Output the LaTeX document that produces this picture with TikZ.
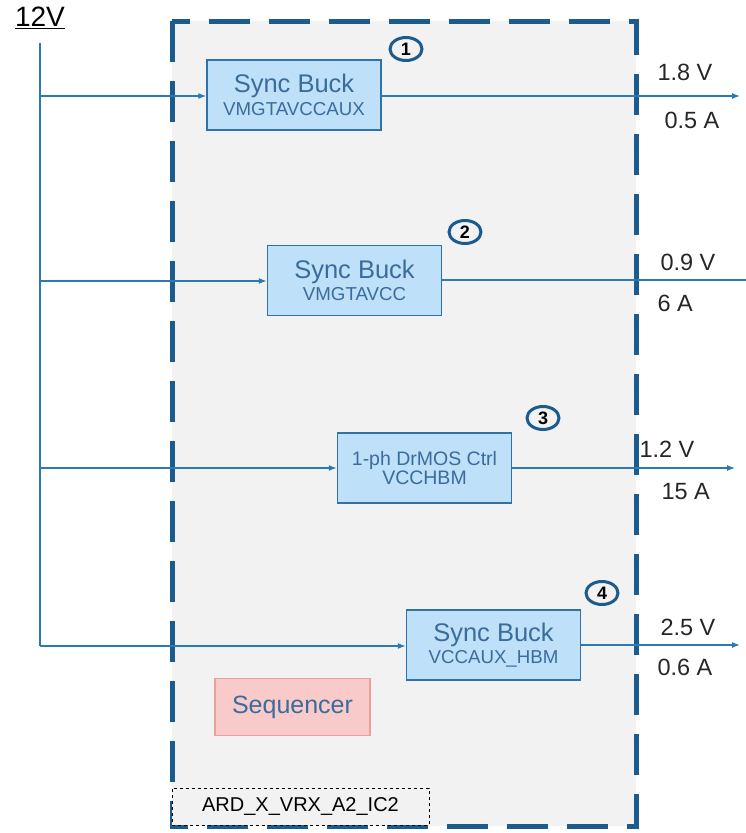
\documentclass[tikz,border=0pt]{standalone}
\usepackage{fontspec}
\setmainfont{Liberation Sans}
\usetikzlibrary{arrows.meta,shapes.geometric}

\definecolor{frameblue}{HTML}{1B5B8E}
\definecolor{wireblue}{HTML}{2B79B5}
\definecolor{boxfill}{HTML}{BEE0F8}
\definecolor{boxline}{HTML}{2F72AA}
\definecolor{boxtext}{HTML}{3A6C9C}
\definecolor{seqfill}{HTML}{F8CACA}
\definecolor{seqline}{HTML}{EBA0A0}
\definecolor{panel}{HTML}{F2F2F2}

\newcommand{\bigtxt}{\fontsize{25.5}{28}\selectfont}
\newcommand{\smalltxt}{\fontsize{18.7}{22}\selectfont}

\tikzset{
  regbox/.style={draw=boxline, fill=boxfill, line width=1.5pt, minimum width=174pt,
    minimum height=70pt, align=center, text=boxtext, inner sep=0pt},
  railnum/.style={ellipse, draw=frameblue, line width=3pt, minimum width=32pt,
    minimum height=23pt, inner sep=0pt, font=\fontsize{18}{18}\selectfont\bfseries},
  wire/.style={wireblue, line width=1.2pt},
  feed/.style={wire, -{Latex[length=8pt,width=6pt]}},
  railtxt/.style={anchor=west, font=\fontsize{23.5}{25}\selectfont, text=black!85}
}

\begin{document}
\begin{tikzpicture}[x=1pt, y=-1pt]
    \useasboundingbox (0,0) rectangle (746,833);

    % regulator frame
    \draw[frameblue, fill=panel, line width=5pt, dash pattern=on 41pt off 19pt]
        (172,21) rectangle (636,826);
    \node[draw, dashed, fill=panel, line width=0.8pt, minimum width=257pt, minimum height=37pt,
        inner sep=0pt, font=\fontsize{20}{22}\selectfont] (tag) at (300.5,806.5) {ARD\_X\_VRX\_A2\_IC2};

    % input
    \node[font=\fontsize{28}{30}\selectfont] (vin) at (40,18) {\underline{12V}};
    \coordinate (bustop) at (40,43);
    \coordinate (tap1) at (40,96);
    \coordinate (tap2) at (40,281);
    \coordinate (tap3) at (40,468);
    \coordinate (tap4) at (40,646);

    % regulators
    \node[regbox] (buck1) at (294,95) {{\bigtxt Sync Buck}\\[3pt]{\smalltxt VMGTAVCCAUX}};
    \node[regbox] (buck2) at (354.5,280.5) {{\bigtxt Sync Buck}\\[3pt]{\smalltxt VMGTAVCC}};
    \node[regbox] (drmos) at (424.5,468) {{\fontsize{19.5}{25}\selectfont 1-ph DrMOS Ctrl}\\[1pt]{\fontsize{19.5}{23}\selectfont VCCHBM}};
    \node[regbox] (buck4) at (493.5,645) {{\bigtxt Sync Buck}\\[3pt]{\smalltxt VCCAUX\_HBM}};

    \node[railnum] (n1) at (406,49) {1};
    \node[railnum] (n2) at (465,232) {2};
    \node[railnum] (n3) at (543,418) {3};
    \node[railnum] (n4) at (602,593) {4};

    \node[draw=seqline, fill=seqfill, line width=1.2pt, minimum width=155pt, minimum height=57pt,
        text=boxtext, font=\fontsize{25}{27}\selectfont] (seq) at (292.5,707) {Sequencer};

    % wiring
    \draw[wire] (bustop) -- (tap4);
    \draw[feed] (tap1) -- (buck1.west |- tap1);
    \draw[feed] (tap2) -- (buck2.west |- tap2);
    \draw[feed] (tap3) -- (drmos.west |- tap3);
    \draw[feed] (tap4) -- (buck4.west |- tap4);

    \coordinate (out1) at (740,96);
    \coordinate (out2) at (746,280);
    \coordinate (out3) at (735,468);
    \coordinate (out4) at (740,645);
    \draw[feed] (buck1.east |- out1) -- (out1);
    \draw[wire] (buck2.east |- out2) -- (out2);
    \draw[feed] (drmos.east |- out3) -- (out3);
    \draw[feed] (buck4.east |- out4) -- (out4);

    % rail ratings
    \node[railtxt] (v1) at (654,72) {1.8 V};
    \node[railtxt] (i1) at (661,120) {0.5 A};
    \node[railtxt] (v2) at (657,262) {0.9 V};
    \node[railtxt] (i2) at (654,303) {6 A};
    \node[railtxt] (v3) at (636,449) {1.2 V};
    \node[railtxt] (i3) at (658,492) {15 A};
    \node[railtxt] (v4) at (657,627) {2.5 V};
    \node[railtxt] (i4) at (654,667) {0.6 A};
\end{tikzpicture}
\end{document}
